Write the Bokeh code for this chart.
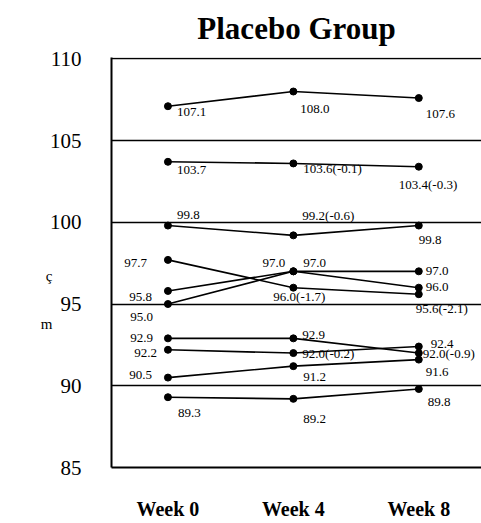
from bokeh.plotting import figure
from bokeh.models import ColumnDataSource, FixedTicker, LinearAxis, Range1d
from bokeh.embed import file_html
from bokeh.resources import INLINE

# ---- data ----
weeks = [0, 4, 8]
week_labels = ["Week 0", "Week 4", "Week 8"]
y_ticks = [85, 90, 95, 100, 105, 110]

s1 = [107.1, 108.0, 107.6]
s2 = [103.7, 103.6, 103.4]
s3 = [99.8, 99.2, 99.8]
s4 = [97.7, 96.0, 95.6]
s5 = [95.8, 97.0, 96.0]
s6 = [95.0, 97.0, 97.0]
s7 = [92.9, 92.9, 92.0]
s8 = [92.2, 92.0, 92.4]
s9 = [90.5, 91.2, 91.6]
s10 = [89.3, 89.2, 89.8]

t1 = ["107.1", "108.0", "107.6"]
t2 = ["103.7", "103.6(-0.1)", "103.4(-0.3)"]
t3 = ["99.8", "99.2(-0.6)", "99.8"]
t4 = ["97.7", "96.0(-1.7)", "95.6(-2.1)"]
t5 = ["95.8", "97.0", "96.0"]
t6 = ["95.0", "97.0", "97.0"]
t7 = ["92.9", "92.9", "92.0(-0.9)"]
t8 = ["92.2", "92.0(-0.2)", "92.4"]
t9 = ["90.5", "91.2", "91.6"]
t10 = ["89.3", "89.2", "89.8"]

unit_chars = ["ç", "m"]
unit_y = [96.7, 93.8]

series = [s1, s2, s3, s4, s5, s6, s7, s8, s9, s10]
texts = [t1, t2, t3, t4, t5, t6, t7, t8, t9, t10]

# label placement (style): (dx px, dy px downward, align) per point
place = [
    [(9, 6, "left"), (7, 17, "left"), (7, 16, "left")],
    [(9, 8, "left"), (10, 5, "left"), (-20, 18, "left")],
    [(9, -11, "left"), (9, -20, "left"), (0, 14, "left")],
    [(-21, 3, "right"), (-20, 9, "left"), (-3, 14, "left")],
    [(-16, 6, "right"), (-8, -8, "right"), (7, -1, "left")],
    [(-15, 13, "right"), (10, -8, "left"), (7, 0, "left")],
    [(-15, 0, "right"), (9, -3, "left"), (4, 0, "left")],
    [(-11, 3, "right"), (9, 0, "left"), (12, -3, "left")],
    [(-16, -3, "right"), (10, 11, "left"), (7, 12, "left")],
    [(10, 16, "left"), (10, 20, "left"), (9, 13, "left")],
]

SERIF = "Liberation Serif"

p = figure(width=481, height=523, output_backend="svg", toolbar_location=None,
           x_range=Range1d(-1.8, 10.0), y_range=Range1d(85, 110.08),
           min_border_left=111, min_border_right=0, min_border_top=57,
           min_border_bottom=56, title="Placebo Group")
p.outline_line_color = None
p.background_fill_color = "white"
p.border_fill_color = "white"

p.title.align = "center"
p.title.vertical_align = "top"
p.title.text_font = SERIF
p.title.text_font_size = "31px"
p.title.text_font_style = "bold"
p.title.text_color = "black"
p.title.standoff = 20

# y axis
p.yaxis.ticker = FixedTicker(ticks=y_ticks)
p.yaxis.major_tick_line_color = None
p.yaxis.minor_tick_line_color = None
p.yaxis.major_label_text_font = SERIF
p.yaxis.major_label_text_font_size = "21px"
p.yaxis.major_label_text_color = "black"
p.yaxis.major_label_standoff = 24
p.yaxis.axis_line_color = "black"
p.yaxis.axis_line_width = 2

# unit label "ç / m" as an extra left axis (upright characters)
unit_axis = LinearAxis(ticker=FixedTicker(ticks=unit_y),
                       major_label_overrides={v: c for v, c in zip(unit_y, unit_chars)},
                       axis_line_color=None, major_tick_line_color=None,
                       minor_tick_line_color=None, major_label_standoff=-12,
                       major_label_text_font=SERIF, major_label_text_font_size="15px",
                       major_label_text_color="black")
p.add_layout(unit_axis, "left")

# x axis
p.xaxis.ticker = FixedTicker(ticks=weeks)
p.xaxis.major_label_overrides = {w: l for w, l in zip(weeks, week_labels)}
p.xaxis.major_tick_line_color = None
p.xaxis.minor_tick_line_color = None
p.xaxis.major_label_text_font = SERIF
p.xaxis.major_label_text_font_size = "20px"
p.xaxis.major_label_text_font_style = "bold"
p.xaxis.major_label_text_color = "black"
p.xaxis.major_label_standoff = 24
p.xaxis.axis_line_color = "black"
p.xaxis.axis_line_width = 2

p.xgrid.grid_line_color = None
p.ygrid.ticker = FixedTicker(ticks=[90, 95, 100, 105, 110])
p.ygrid.grid_line_color = "black"
p.ygrid.grid_line_width = 1.5
p.ygrid.grid_line_alpha = 1.0

for s, t, pl in zip(series, texts, place):
    p.line(weeks, s, line_color="black", line_width=1.6)
    p.scatter(weeks, s, size=7, fill_color="black", line_color="black")
    src = ColumnDataSource(dict(
        x=weeks, y=s, text=t,
        dx=[a[0] for a in pl], dy=[a[1] for a in pl], align=[a[2] for a in pl]))
    p.text(x="x", y="y", text="text", x_offset="dx", y_offset="dy",
           text_align="align", text_baseline="middle", source=src,
           text_font={"value": SERIF}, text_font_size="13px", text_color="black")

open("out.html", "w").write(file_html(p, INLINE))
